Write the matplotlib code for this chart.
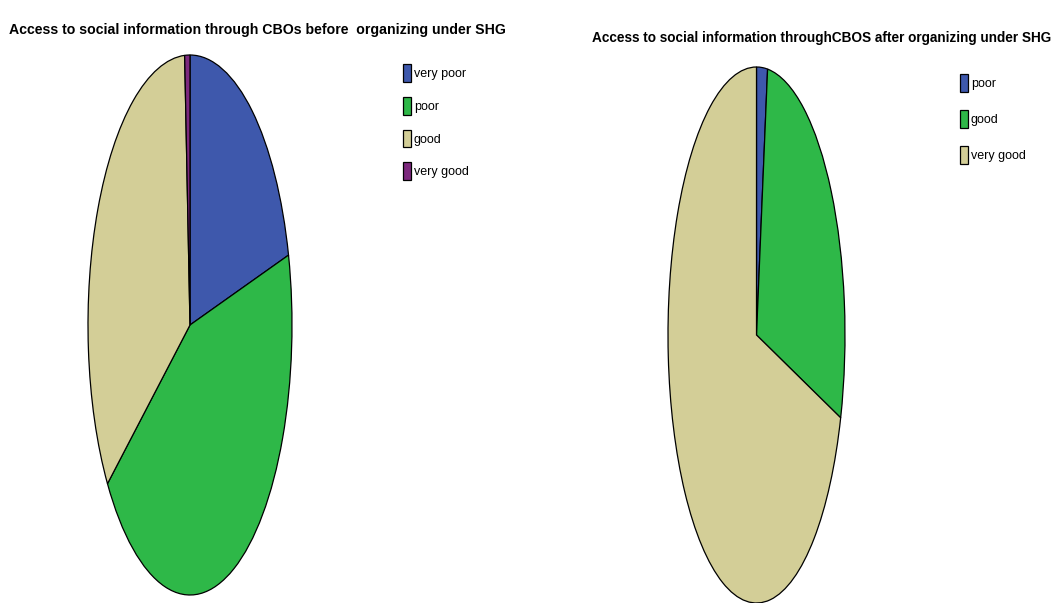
import matplotlib.pyplot as plt

# Survey responses (counts)
before_labels = ['very poor', 'poor', 'good', 'very good']
before_counts = [25, 53, 41, 1]
after_labels = ['poor', 'good', 'very good']
after_counts = [2, 28, 70]

before_colors = ['#3e58ac', '#2eb848', '#d3ce97', '#7c287d']
after_colors = ['#3e58ac', '#2eb848', '#d3ce97']

plt.rcParams['font.family'] = ['Liberation Sans', 'DejaVu Sans']

W, H = 1057, 603
fig = plt.figure(figsize=(W / 100, H / 100), dpi=100)

def draw_pie(rect, counts, colors):
    ax = fig.add_axes(rect)
    ax.pie(counts, colors=colors, startangle=90, counterclock=False,
           wedgeprops=dict(edgecolor='black', linewidth=0.9, clip_on=False))
    ax.set_aspect('auto')
    ax.set_xlim(-1, 1)
    ax.set_ylim(-1, 1)
    ax.axis('off')
    return ax

ax1 = draw_pie([88/W, 8/H, 204/W, 540/H], before_counts, before_colors)
ax2 = draw_pie([668/W, 0/H, 177/W, 536/H], after_counts, after_colors)

#Titles - sized so they span the same width as the heading area
def title(x0, x1, y, s):
    t = fig.text((x0 + x1) / 2 / W, 1 - y / H, s, ha='center', va='center',
                 fontsize=12, fontweight='bold')
    r = fig.canvas.get_renderer()
    w = t.get_window_extent(r).width
    t.set_fontsize(12 * (x1 - x0) / w)
    return t

title(10, 505, 30, 'Access to social information through CBOs before  organizing under SHG')
title(593, 1050, 38, 'Access to social information throughCBOS after organizing under SHG')

#Legends
leg_kw = dict(loc='upper left', frameon=False, borderpad=0, handlelength=0.65,
              handleheight=1.8, handletextpad=0.2, prop={'size': 9})
fig.legend(ax1.patches, before_labels, bbox_to_anchor=(397/W, 1 - 58/H),
           labelspacing=1.2, **leg_kw)
fig.legend(ax2.patches, after_labels, bbox_to_anchor=(954/W, 1 - 68/H),
           labelspacing=1.45, **leg_kw)

plt.savefig('out.png', dpi=100)
